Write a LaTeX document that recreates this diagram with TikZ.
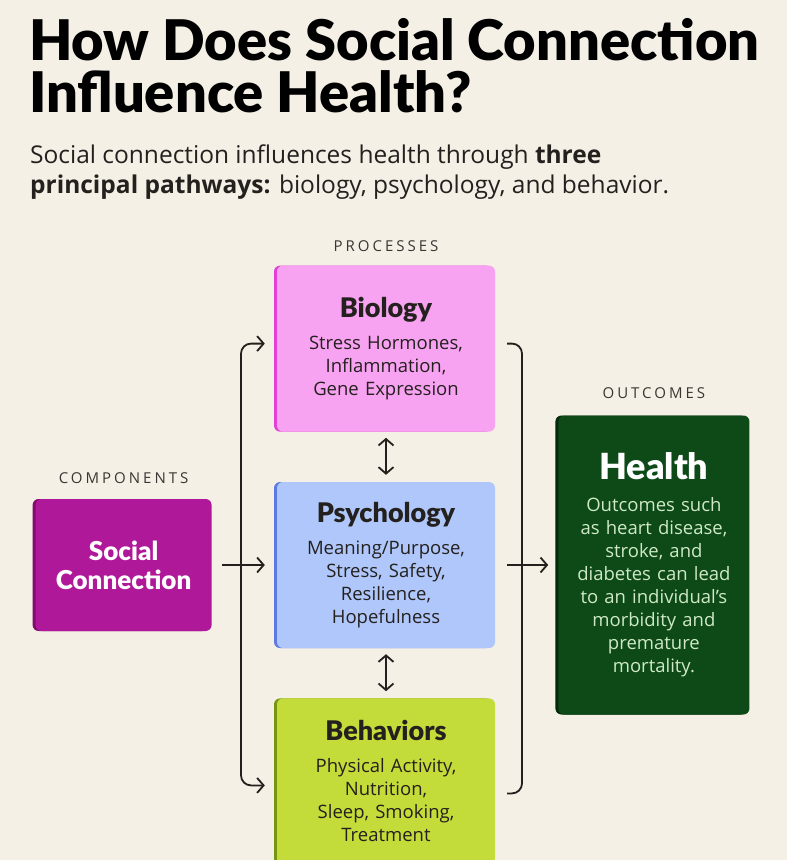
\documentclass[tikz,border=0pt]{standalone}
\usepackage{fontspec}
\setmainfont{Open Sans}
\IfFontExistsTF{Lato Black}{\newfontfamily\heavyfont{Lato Black}}{%
  \IfFontExistsTF{FiraSans-Black.otf}{\newfontfamily\heavyfont{FiraSans-Black.otf}}{%
    \IfFontExistsTF{OpenSans-ExtraBold.ttf}{\newfontfamily\heavyfont{OpenSans-ExtraBold.ttf}}{\newcommand\heavyfont{\bfseries}}}}
\IfFontExistsTF{Open Sans SemiBold}{\newfontfamily\capsfont{Open Sans SemiBold}[LetterSpace=20]}{\newfontfamily\capsfont{Open Sans}[LetterSpace=20]}
\usepackage{tikz}
\usetikzlibrary{arrows.meta,positioning,shadows}
\usepackage{xcolor}
\definecolor{cream}{RGB}{244,240,230}
\definecolor{ink}{RGB}{36,32,30}
\definecolor{labelgray}{RGB}{58,54,51}
\definecolor{biopink}{RGB}{248,163,242}
\definecolor{bioedge}{RGB}{226,64,214}
\definecolor{psyblue}{RGB}{175,199,250}
\definecolor{psyedge}{RGB}{92,122,226}
\definecolor{behlime}{RGB}{196,220,58}
\definecolor{behedge}{RGB}{118,150,18}
\definecolor{scmagenta}{RGB}{176,24,154}
\definecolor{scedge}{RGB}{132,10,114}
\definecolor{healthgreen}{RGB}{13,74,23}
\definecolor{healthedge}{RGB}{6,40,10}
\definecolor{healthtext}{RGB}{207,233,198}

\begin{document}
\begin{tikzpicture}[
  x=1pt, y=-1pt,
  font=\fontsize{18.5}{23}\selectfont,
  proc/.style 2 args={fill=#1, general shadow={fill=#2, shadow xshift=-3pt},
              rounded corners=6pt, align=center, inner sep=0pt, text=ink,
              text width=205pt, minimum width=218pt, minimum height=166pt},
  caps/.style={font=\capsfont\fontsize{15}{17}\selectfont, text=labelgray, inner sep=0pt},
  arr/.style={-{Straight Barb[length=6.5pt, width=15pt]}, line width=1.8pt, color=ink},
  dbl/.style={{Straight Barb[length=6.5pt, width=15pt]}-{Straight Barb[length=6.5pt, width=15pt]}, line width=1.8pt, color=ink},
  brk/.style={line width=1.8pt, color=ink, rounded corners=10pt}]
\useasboundingbox (0,0) rectangle (787,860);
\fill[cream] (0,0) rectangle (787,860);
% title and lead
\node[anchor=base west, inner sep=0pt, text=black, font=\heavyfont\fontsize{56}{60}\selectfont] (title) at (29,60) {How Does Social Connection};
\node[anchor=base west, inner sep=0pt, text=black, font=\heavyfont\fontsize{56}{60}\selectfont] (titleb) at (29,112) {Influence Health?};
\node[anchor=base west, inner sep=0pt, text=ink, font=\fontsize{24.5}{30}\selectfont] (lead) at (30,163) {Social connection influences health through \textbf{three}};
\node[anchor=base west, inner sep=0pt, text=ink, font=\fontsize{24.5}{30}\selectfont] (leadb) at (30,193) {\textbf{principal pathways:} biology, psychology, and behavior.};
% boxes
\node[proc={psyblue}{psyedge}] (psy) at (386,565) {{\heavyfont\fontsize{27}{27}\selectfont Psychology}\\[9pt]Meaning/Purpose,\\Stress, Safety,\\Resilience,\\Hopefulness};
\node[proc={biopink}{bioedge}, above=50pt of psy] (bio) {{\heavyfont\fontsize{27}{27}\selectfont Biology}\\[9pt]Stress Hormones,\\Inflammation,\\Gene Expression};
\node[proc={behlime}{behedge}, below=50pt of psy] (beh) {{\heavyfont\fontsize{27}{27}\selectfont Behaviors}\\[9pt]Physical Activity,\\Nutrition,\\Sleep, Smoking,\\Treatment};
\node[proc={scmagenta}{scedge}, minimum width=176pt, minimum height=132pt, text width=165pt,
      text=white, font=\heavyfont\fontsize{26}{29}\selectfont, left=65pt of psy] (sc) {Social\\Connection};
\node[proc={healthgreen}{healthedge}, minimum width=191pt, minimum height=299pt, text width=182pt,
      text=healthtext, right=63pt of psy] (health) {{\color{white}\heavyfont\fontsize{36}{36}\selectfont Health}\\[9pt]Outcomes such\\as heart disease,\\stroke, and\\diabetes can lead\\to an individual’s\\morbidity and\\premature\\mortality.};
% column labels
\node[caps, above=14pt of bio] (proclabel) {PROCESSES};
\node[caps, above=15pt of sc] (complabel) {COMPONENTS};
\node[caps, above=16pt of health] (outlabel) {OUTCOMES};
% connectors
\coordinate (lx) at (241,565);
\coordinate (rx) at (522,565);
\draw[arr, shorten <=10pt, shorten >=12pt] (sc.east) -- (psy.west);
\draw[arr, rounded corners=10pt, shorten >=12pt] (lx) |- ([yshift=5pt]bio.west);
\draw[arr, rounded corners=10pt, shorten >=12pt] (lx) |- ([yshift=-4pt]beh.west);
\draw[brk] ([xshift=12pt, yshift=5pt]bio.east) -| (rx) |- ([xshift=12pt, yshift=-12pt]beh.east);
\draw[arr, shorten <=12pt, shorten >=10pt] (psy.east) -- (psy.east -| health.west);
\draw[dbl, shorten <=6pt, shorten >=7pt] (bio.south) -- (psy.north);
\draw[dbl, shorten <=6pt, shorten >=7pt] (psy.south) -- (beh.north);
\end{tikzpicture}
\end{document}
